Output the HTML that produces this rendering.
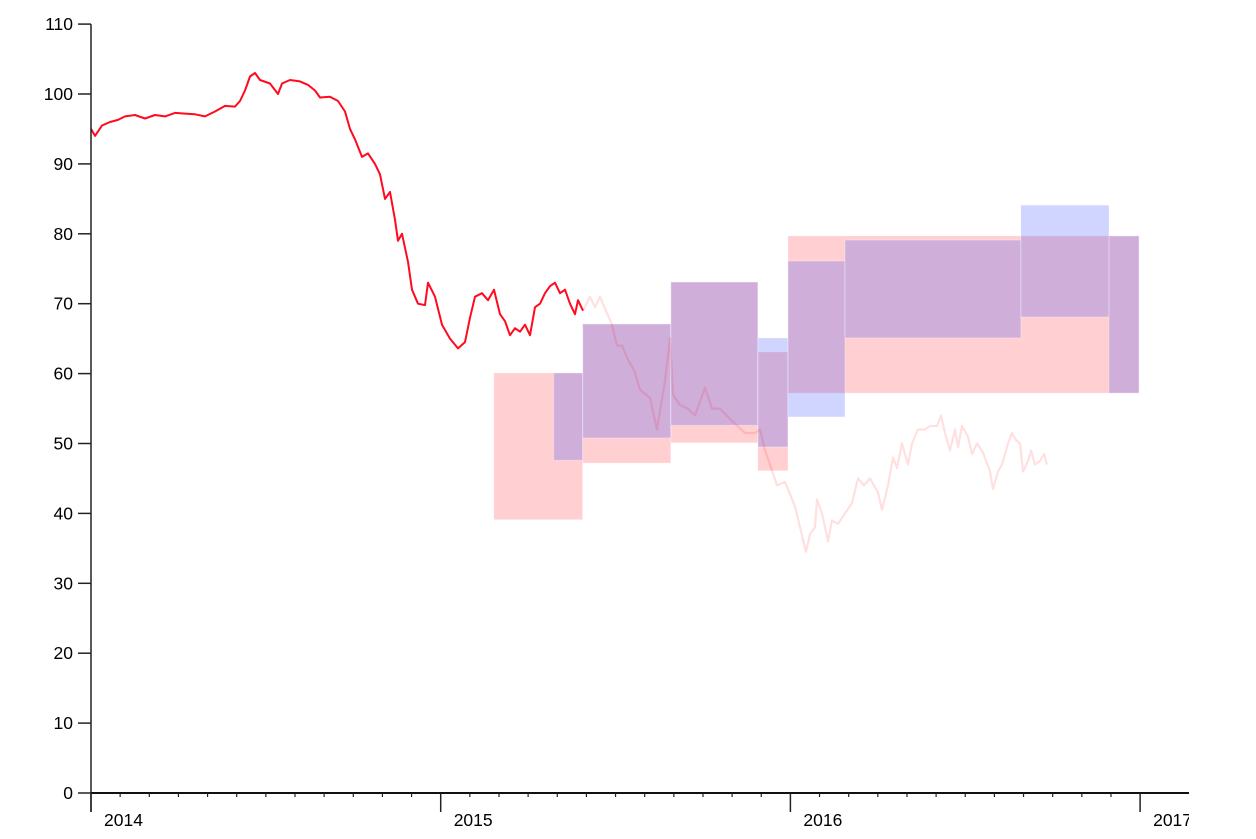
<!DOCTYPE html>
<html><head><meta charset="utf-8"><style>
html,body{margin:0;padding:0;background:#fff;}
svg{display:block;font-family:"Liberation Sans",Arial,sans-serif;}
</style></head><body>
<svg id="chart" width="1256" height="839">
<defs><clipPath id="clip"><rect x="0" y="0" width="1189" height="839"/></clipPath></defs>
<g id="rects"></g>
<g id="lines"></g>
<g id="axes" clip-path="url(#clip)"></g>
</svg>
<script>
// Price series (x position index in px-of-year space, value)
const histYears=[91,95,102,110,118,125,135,145,155,165,175,185,195,205,215,225,235,240,245,250,255,260,270,278,282,290,300,308,315,320,330,338,345,350,355,362,368,375,380,385,390,395,398,402,408,412,418,425,428,435,442,450,458,465,470,475,482,488,494,500,505,510,515,520,525,530,535,540,545,550,555,560,565,570,575,578,583];
const histValues=[95,94,95.5,96,96.3,96.8,97,96.5,97,96.8,97.3,97.2,97.1,96.8,97.5,98.3,98.2,99,100.5,102.5,103,102,101.5,100,101.5,102,101.8,101.3,100.5,99.5,99.6,99,97.5,95,93.5,91,91.5,90,88.5,85,86,82,79,80,76,72,70,69.8,73,71,67,65,63.6,64.5,68,71,71.5,70.5,72,68.5,67.5,65.5,66.5,66,67,65.5,69.5,70,71.5,72.5,73,71.5,72,70,68.5,70.5,69];
const futYears=[583,590,595,600,605,612,617,622,628,634,640,650,657,665,670,673,680,688,695,705,712,720,730,745,755,760,765,770,777,785,795,800,806,810,815,817,822,828,832,838,845,852,858,864,870,878,882,888,893,897,902,908,912,918,925,930,937,941,945,950,955,958,962,968,972,977,983,990,993,998,1002,1008,1012,1016,1020,1023,1028,1031,1035,1040,1044,1047];
const futValues=[69,71,69.5,71,69.3,67,64,64,62,60.5,57.7,56.5,52,59,65,57,55.5,55,54,58,55,55,53.5,51.5,51.5,52,49,47,44,44.5,41,38,34.5,37,38,42,40,36,39,38.5,40,41.5,45,44,45,43,40.5,44,48,46.5,50,47,50,52,52,52.5,52.5,54,51.5,49,52,49.5,52.5,51,48.5,50,48.7,46,43.5,46,47,50,51.5,50.5,50,46,47.5,49,47,47.5,48.5,47];
// Forecast range rectangles: start/end (decimal year), high/low
const redStart=[2015.152,2015.406,2015.658,2015.907,2015.993];
const redEnd=[2015.406,2015.658,2015.907,2015.993,2016.997];
const redHigh=[60.1,67.1,73.1,63.1,79.7];
const redLow=[39.1,47.2,50.1,46.1,57.2];
const blueStart=[2015.323,2015.406,2015.658,2015.907,2015.993,2016.156,2016.659,2016.911];
const blueEnd=[2015.406,2015.658,2015.907,2015.993,2016.156,2016.659,2016.911,2016.997];
const blueHigh=[60.1,67.1,73.1,65.1,76.1,79.1,84.1,79.7];
const blueLow=[47.6,50.8,52.6,49.5,53.8,65.1,68.1,57.2];
const yTicks=[0,10,20,30,40,50,60,70,80,90,100,110];
const xYears=[2014,2015,2016,2017];

const NS="http://www.w3.org/2000/svg";
const X0=91,PX_PER_YEAR=349.7,Y0=793,PX_PER_UNIT=6.99;
const x=t=>X0+(t-2014)*PX_PER_YEAR;
const y=v=>Y0-v*PX_PER_UNIT;
const pxToYear=p=>2014+(p-X0)/PX_PER_YEAR;
function mk(tag,attrs,parent){const e=document.createElementNS(NS,tag);for(const k in attrs)e.setAttribute(k,attrs[k]);parent.appendChild(e);return e;}
const gR=document.getElementById('rects'),gL=document.getElementById('lines'),gA=document.getElementById('axes');

redStart.forEach((s,i)=>{
  const r=mk('rect',{x:x(s),y:y(redHigh[i]),width:x(redEnd[i])-x(s),height:y(redLow[i])-y(redHigh[i]),fill:'#ff0010','fill-opacity':0.19,stroke:'#fff','stroke-opacity':0.3,'stroke-width':1},gR);
  
  
});
blueStart.forEach((s,i)=>{
  const r=mk('rect',{x:x(s),y:y(blueHigh[i]),width:x(blueEnd[i])-x(s),height:y(blueLow[i])-y(blueHigh[i]),fill:'#0020ff','fill-opacity':0.19,stroke:'#fff','stroke-opacity':0.3,'stroke-width':1},gR);
  
  
});
function path(years,vals){return years.map((p,i)=>(i?'L':'M')+x(pxToYear(p)).toFixed(1)+','+y(vals[i]).toFixed(1)).join('');}
const fl=mk('path',{d:path(futYears,futValues),fill:'none',stroke:'#ff0000','stroke-opacity':0.12,'stroke-width':2.2,'stroke-linejoin':'round'},gL);


const hl=mk('path',{d:path(histYears,histValues),fill:'none',stroke:'#ff0a1e','stroke-width':2,'stroke-linejoin':'round'},gL);



// y axis
mk('line',{x1:X0,y1:y(110),x2:X0,y2:812,stroke:'#222','stroke-width':1.5},gA);
yTicks.forEach(v=>{
  mk('line',{x1:78,y1:y(v),x2:X0,y2:y(v),stroke:'#222','stroke-width':1.5},gA);
  const t=mk('text',{x:73,y:y(v)+6,'text-anchor':'end','font-size':17.5,fill:'#000'},gA);
  t.textContent=v;
  
  
});
// x axis
const xl=mk('line',{x1:X0,y1:Y0,x2:1190,y2:Y0,stroke:'#111','stroke-width':2},gA);


for(let yr=2014;yr<2017;yr++){for(let m=1;m<12;m++){const px=x(yr+m/12);mk('line',{x1:px,y1:Y0,x2:px,y2:Y0+4,stroke:'#222','stroke-width':1.2},gA);}}
xYears.forEach(yr=>{
  mk('line',{x1:x(yr),y1:Y0,x2:x(yr),y2:812,stroke:'#222','stroke-width':1.5},gA);
  const t=mk('text',{x:x(yr)+13,y:826,'font-size':17.5,fill:'#000'},gA);
  t.textContent=yr;
  
  
});
</script>
</body></html>
